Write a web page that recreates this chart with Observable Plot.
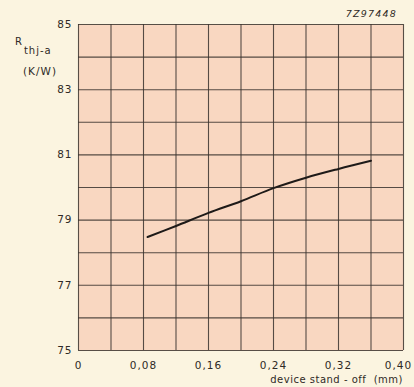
<!DOCTYPE html>
<html>
<head>
<meta charset="utf-8">
<script src="https://cdn.jsdelivr.net/npm/d3@7"></script>
<script src="https://cdn.jsdelivr.net/npm/@observablehq/plot@0.6"></script>
<style>
  html, body { margin: 0; padding: 0; background: #fbf4e0; }
  #chart svg { display: block; }
  #chart svg text { letter-spacing: 1px; }
</style>
</head>
<body>
<div id="chart"></div>
<script>
// Thermal resistance junction-to-ambient versus device stand-off
const standOff = [0.085, 0.12, 0.16, 0.20, 0.24, 0.28, 0.32, 0.36];
const rth      = [78.48, 78.82, 79.22, 79.58, 79.98, 80.30, 80.57, 80.82];
const xTicks = [0, 0.08, 0.16, 0.24, 0.32, 0.40];
const yTicks = [75, 77, 79, 81, 83, 85];
const xGrid = d3.range(0, 11).map(i => i * 0.04);
const yGrid = d3.range(75, 86);

const data = standOff.map((x, i) => ({x, y: rth[i]}));
const fmt = d => d === 0 ? "0" : d.toFixed(2).replace(".", ",");

const ink = "#3a332e";
const textInk = "#2f2a26";
const plot = Plot.plot({
  width: 414,
  height: 387,
  marginLeft: 78,
  marginTop: 24,
  marginRight: 11,
  marginBottom: 37,
  style: {background: "#fbf4e0", fontFamily: "'DejaVu Sans', sans-serif", fontSize: "10.5px", color: textInk},
  x: {domain: [0, 0.4], ticks: xTicks, tickFormat: fmt, tickSize: 0, tickPadding: 11, label: null},
  y: {domain: [75, 85], ticks: yTicks, tickSize: 0, tickPadding: 6, label: null},
  marks: [
    Plot.frame({fill: "#f9d7c1", stroke: null}),
    Plot.ruleX(xGrid, {stroke: ink, strokeWidth: 1.1, strokeOpacity: 0.85}),
    Plot.ruleY(yGrid, {stroke: ink, strokeWidth: 1.1, strokeOpacity: 0.85}),
    Plot.line(data, {x: "x", y: "y", curve: "catmull-rom", stroke: "#1e1a18", strokeWidth: 2})
  ]
});
document.getElementById("chart").appendChild(plot);

const svg = d3.select(plot);

// keep the last x tick label inside the right edge
svg.selectAll("text").filter(function() { return this.textContent === "0,40"; })
  .attr("dx", -5);

// Axis titles and drawing reference number
const ylab = svg.append("text")
  .attr("x", 15).attr("y", 45)
  .attr("text-anchor", "start")
  .attr("fill", textInk)
  .style("font-size", "10px");
ylab.append("tspan").text("R");
ylab.append("tspan").attr("dy", 9).attr("dx", 1).style("font-size", "10px").text("thj-a");
svg.append("text")
  .attr("x", 40).attr("y", 75)
  .attr("text-anchor", "middle")
  .attr("fill", textInk)
  .style("font-size", "10.5px")
  .text("(K/W)");
svg.append("text")
  .attr("x", 403).attr("y", 383)
  .attr("text-anchor", "end")
  .attr("xml:space", "preserve")
  .attr("fill", textInk)
  .style("font-size", "10px")
  .style("letter-spacing", "0.5px")
  .text("device stand - off  (mm)");
svg.append("text")
  .attr("x", 397).attr("y", 17)
  .attr("text-anchor", "end")
  .attr("fill", textInk)
  .style("font-size", "9.5px")
  .style("font-style", "italic")
  .style("letter-spacing", "1.2px")
  .text("7Z97448");
</script>
</body>
</html>
